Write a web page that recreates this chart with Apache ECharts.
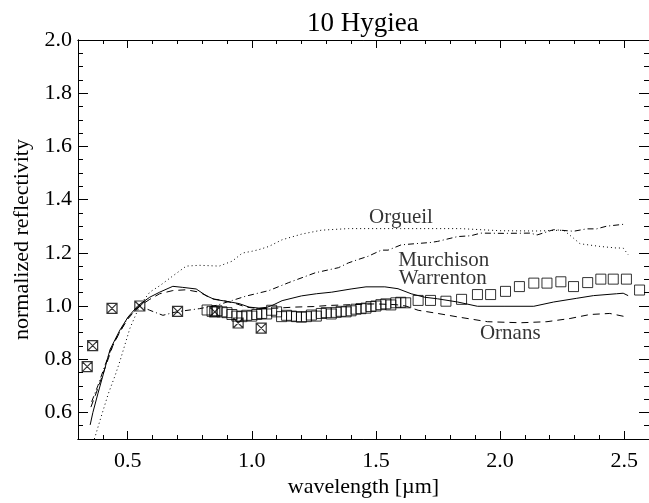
<!DOCTYPE html>
<html>
<head>
<meta charset="utf-8">
<script src="https://cdn.jsdelivr.net/npm/echarts@6/dist/echarts.min.js"></script>
<style>html,body{margin:0;padding:0;background:#fff;}#c{width:649px;height:503px;}</style>
</head>
<body>
<div id="c"></div>
<script>
// ---- data ----
const xMajorTicks = [0.5, 1.0, 1.5, 2.0, 2.5];
const yMajorTicks = [0.6, 0.8, 1.0, 1.2, 1.4, 1.6, 1.8, 2.0];

// Hygiea photometry (crossed squares, ECAS-like)
const ecasPoints = [[0.337,0.772],[0.359,0.851],[0.437,0.991],[0.549,1.000],[0.701,0.980],[0.851,0.978],[0.945,0.936],[1.038,0.917]];

// Hygiea spectrum (open squares)
const specPoints = [
 [0.82,0.985],[0.84,0.980],[0.86,0.982],[0.88,0.978],[0.90,0.975],[0.92,0.968],[0.94,0.962],[0.96,0.960],
 [0.98,0.965],[1.00,0.962],[1.02,0.968],[1.04,0.972],[1.06,0.970],[1.08,0.984],[1.10,0.978],[1.12,0.960],
 [1.14,0.965],[1.16,0.962],[1.18,0.960],[1.20,0.958],[1.22,0.960],[1.24,0.966],[1.26,0.962],[1.28,0.972],
 [1.30,0.975],[1.32,0.970],[1.34,0.976],[1.36,0.980],[1.38,0.978],[1.40,0.982],[1.42,0.988],[1.44,0.990],
 [1.46,0.992],[1.48,0.998],[1.50,1.000],[1.52,1.005],[1.54,1.008],[1.56,1.004],[1.58,1.012],[1.60,1.014],
 [1.62,1.012],
 [1.67,1.021],[1.72,1.021],[1.782,1.018],[1.845,1.025],[1.909,1.043],[1.962,1.043],[2.022,1.055],[2.078,1.073],
 [2.136,1.086],[2.189,1.086],[2.245,1.091],[2.296,1.073],[2.353,1.088],[2.406,1.101],[2.456,1.101],[2.509,1.101],
 [2.562,1.060]
];

// Meteorite spectra
const warrenton = [
 [0.349,0.553],[0.36,0.60],[0.38,0.67],[0.402,0.744],[0.429,0.836],[0.45,0.875],[0.469,0.910],[0.502,0.959],
 [0.542,1.002],[0.589,1.033],[0.629,1.052],[0.682,1.074],[0.722,1.070],[0.776,1.064],[0.816,1.039],[0.849,1.025],
 [0.896,1.018],[0.949,1.009],[0.989,0.996],[1.029,0.992],[1.06,0.995],[1.082,1.002],[1.122,1.020],[1.20,1.038],
 [1.26,1.046],[1.322,1.052],[1.40,1.064],[1.46,1.072],[1.536,1.072],[1.589,1.065],[1.642,1.046],[1.696,1.033],
 [1.749,1.027],[1.829,1.015],[1.909,0.999],[2.016,0.999],[2.136,0.999],[2.216,1.015],[2.309,1.029],[2.376,1.039],
 [2.469,1.046],[2.496,1.048],[2.516,1.039]
];
const ornans = [
 [0.352,0.62],[0.38,0.69],[0.41,0.77],[0.44,0.85],[0.47,0.905],[0.50,0.95],[0.54,0.995],[0.589,1.025],
 [0.629,1.046],[0.682,1.058],[0.736,1.061],[0.789,1.052],[0.842,1.027],[0.882,1.021],[0.936,1.009],[0.976,0.996],
 [1.03,0.990],[1.10,0.992],[1.176,0.996],[1.25,0.998],[1.309,1.002],[1.40,1.005],[1.50,1.008],[1.58,1.005],
 [1.62,1.000],[1.67,0.984],[1.749,0.972],[1.829,0.959],[1.949,0.941],[2.083,0.937],[2.189,0.941],[2.282,0.953],
 [2.362,0.968],[2.442,0.972],[2.509,0.959]
];
const murchison = [
 [0.355,0.64],[0.38,0.70],[0.41,0.78],[0.44,0.855],[0.47,0.905],[0.50,0.955],[0.549,1.000],[0.589,0.984],
 [0.642,0.965],[0.696,0.978],[0.789,0.990],[0.856,1.002],[0.922,1.021],[0.976,1.037],[1.016,1.046],[1.069,1.058],
 [1.149,1.088],[1.256,1.125],[1.349,1.144],[1.389,1.162],[1.429,1.175],[1.469,1.187],[1.522,1.210],[1.549,1.210],
 [1.602,1.230],[1.722,1.239],[1.749,1.243],[1.829,1.261],[1.882,1.264],[1.922,1.274],[2.016,1.273],[2.122,1.274],
 [2.149,1.267],[2.216,1.287],[2.296,1.281],[2.349,1.290],[2.389,1.290],[2.429,1.300],[2.496,1.307]
];
const orgueil = [
 [0.366,0.50],[0.389,0.571],[0.422,0.67],[0.45,0.74],[0.469,0.793],[0.509,0.916],[0.549,1.002],[0.589,1.052],
 [0.629,1.076],[0.682,1.113],[0.736,1.150],[0.789,1.153],[0.869,1.150],[0.922,1.169],[0.962,1.199],[1.002,1.206],
 [1.029,1.212],[1.069,1.224],[1.122,1.249],[1.20,1.270],[1.28,1.285],[1.39,1.291],[1.60,1.291],[1.84,1.291],
 [2.00,1.283],[2.15,1.282],[2.256,1.285],[2.296,1.255],[2.322,1.234],[2.402,1.224],[2.469,1.218],[2.496,1.218],
 [2.516,1.193]
];

const lineLabels = [
 {name:'Orgueil', value:[1.601,1.331]},
 {name:'Murchison', value:[1.773,1.172]},
 {name:'Warrenton', value:[1.769,1.102]},
 {name:'Ornans', value:[2.041,0.895]}
];

// ---- chart ----
const FONT = 'Liberation Serif';
const chart = echarts.init(document.getElementById('c'), null, {renderer:'canvas'});
const X_MIN = 0.3, X_MAX = 2.6, Y_MIN = 0.5, Y_MAX = 2.0;

function xAx(pos, major, showLabel, showName) {
  const a = {
    type:'value', min:X_MIN, max:X_MAX, position:pos,
    axisLine:{show:true, onZero:false, lineStyle:{color:'#000', width:1}},
    splitLine:{show:false},
    axisTick:{show:true, inside:true, length: major?8:4, lineStyle:{color:'#000', width:1}},
    axisLabel:{show:showLabel, color:'#000', fontFamily:FONT, fontSize:22, margin:11,
               formatter:(v)=>v.toFixed(1)}
  };
  if (major) { a.axisTick.customValues = xMajorTicks; a.axisLabel.customValues = xMajorTicks; }
  else { a.interval = 0.1; a.axisLabel.show = false; }
  if (showName) {
    a.name = 'wavelength [µm]'; a.nameLocation = 'middle'; a.nameGap = 37;
    a.nameTextStyle = {color:'#000', fontFamily:FONT, fontSize:22};
  }
  return a;
}
function yAx(pos, major, showLabel, showName) {
  const a = {
    type:'value', min:Y_MIN, max:Y_MAX, position:pos,
    axisLine:{show:true, onZero:false, lineStyle:{color:'#000', width:1}},
    splitLine:{show:false},
    axisTick:{show:true, inside:true, length: major?10:5, lineStyle:{color:'#000', width:1}},
    axisLabel:{show:showLabel, color:'#000', fontFamily:FONT, fontSize:22, margin:6,
               formatter:(v)=>v.toFixed(1)}
  };
  if (major) { a.axisTick.customValues = yMajorTicks; a.axisLabel.customValues = yMajorTicks; }
  else { a.interval = 0.05; a.axisLabel.show = false; }
  if (showName) {
    a.name = 'normalized reflectivity'; a.nameLocation = 'middle'; a.nameGap = 45;
    a.nameTextStyle = {color:'#000', fontFamily:FONT, fontSize:22};
  }
  return a;
}

function lineSeries(name, data, type) {
  return {
    name, type:'line', data, xAxisIndex:0, yAxisIndex:0, symbol:'none', showSymbol:false,
    clip:true, smooth:false, z:2,
    lineStyle:{color:'#000', width:1, type:type}
  };
}

const option = {
  animation:false,
  backgroundColor:'#fff',
  title:{text:'10 Hygiea', left:307, top:10, padding:0,
         textStyle:{color:'#000', fontFamily:FONT, fontSize:27, fontWeight:'normal'}},
  grid:{left:78, right:-4, top:40, bottom:57, containLabel:false},
  xAxis:[ xAx('bottom', false, false, true), xAx('bottom', true, true, false),
          xAx('top', false, false, false), xAx('top', true, false, false) ],
  yAxis:[ yAx('left', false, false, true), yAx('left', true, true, false),
          yAx('right', false, false, false), yAx('right', true, false, false) ],
  series:[
    lineSeries('Warrenton', warrenton, 'solid'),
    lineSeries('Ornans', ornans, [7,5]),
    lineSeries('Murchison', murchison, [6,3,1,3]),
    lineSeries('Orgueil', orgueil, [1,3]),
    { name:'spectrum', type:'scatter', data:specPoints, xAxisIndex:0, yAxisIndex:0,
      symbol:'rect', symbolSize:10, z:3,
      itemStyle:{color:'rgba(0,0,0,0)', borderColor:'#000', borderWidth:1} },
    { name:'photometry', type:'scatter', data:ecasPoints, xAxisIndex:0, yAxisIndex:0,
      symbol:'path://M0 0H10V10H0Z M0 0L10 10 M10 0L0 10', symbolSize:10, z:4,
      itemStyle:{color:'rgba(0,0,0,0)', borderColor:'#000', borderWidth:1.2} },
    { name:'labels', type:'scatter', data:lineLabels, xAxisIndex:0, yAxisIndex:0,
      symbol:'circle', symbolSize:1, z:5, silent:true,
      itemStyle:{color:'rgba(0,0,0,0)'},
      label:{show:true, position:'inside', formatter:'{b}', color:'#000', fontFamily:FONT, fontSize:21} }
  ]
};
chart.setOption(option);
</script>
</body>
</html>
